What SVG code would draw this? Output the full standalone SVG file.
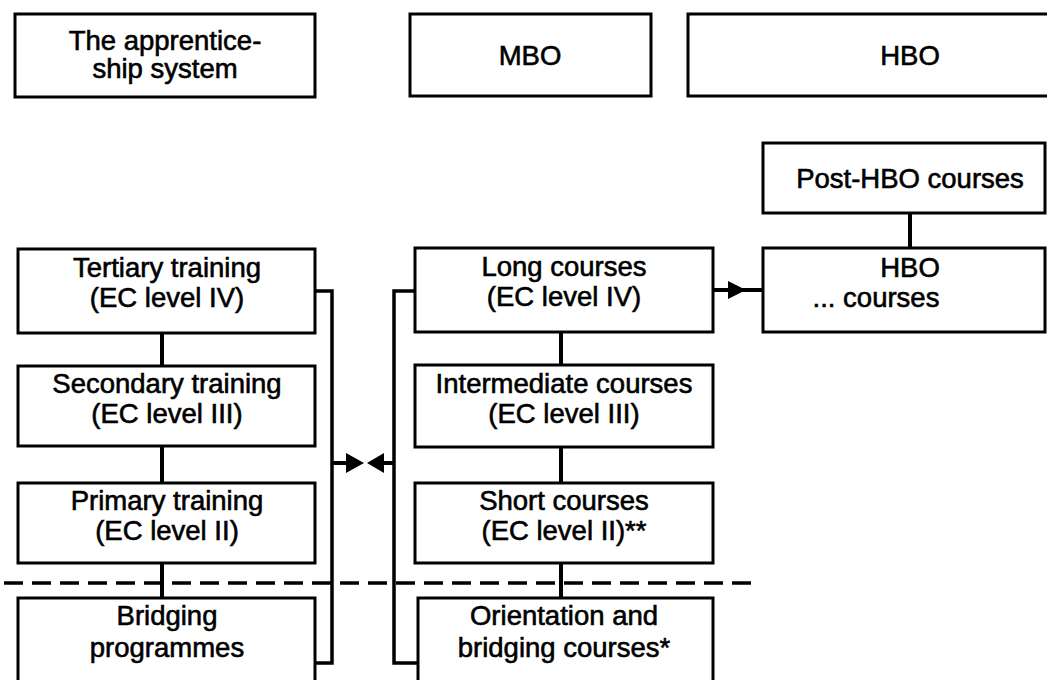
<svg xmlns="http://www.w3.org/2000/svg" width="1047" height="680" viewBox="0 0 1047 680">
<style>
.box{fill:#fff;stroke:#000;stroke-width:3}
.t{font-family:"Liberation Sans",Arial,sans-serif;font-size:27.5px;fill:#000;stroke:#000;stroke-width:0.6;text-anchor:middle}
.c{fill:none;stroke:#000;stroke-width:4}
.b{fill:none;stroke:#000;stroke-width:3.5}
.d{fill:none;stroke:#000;stroke-width:3.5;stroke-dasharray:19 9}
.ah{fill:#000}
</style>
<g id="connectors">
<line class="c" x1="162" y1="333" x2="162" y2="366"/>
<line class="c" x1="162" y1="446" x2="162" y2="483"/>
<line class="c" x1="162" y1="563" x2="162" y2="598"/>
<line class="c" x1="561" y1="332" x2="561" y2="365"/>
<line class="c" x1="561" y1="447" x2="561" y2="483"/>
<line class="c" x1="561" y1="563" x2="561" y2="598"/>
<line class="c" x1="910" y1="213" x2="910" y2="248"/>
<line class="c" x1="713" y1="290" x2="763" y2="290"/>
<polygon class="ah" points="728,281 746,290 728,299"/>
<polyline class="b" points="315,291 332,291 332,663 315,663"/>
<polyline class="b" points="415,291 394,291 394,663 418,663"/>
<line class="c" x1="332" y1="463" x2="350" y2="463"/>
<polygon class="ah" points="346,453 364,463 346,473"/>
<line class="c" x1="394" y1="463" x2="380" y2="463"/>
<polygon class="ah" points="384,453 367,463 384,473"/>
<line class="d" x1="4" y1="583" x2="752" y2="583"/>
</g>
<g id="apprenticeship">
<rect class="box" x="15" y="14" width="300" height="83"/>
<text class="t" x="165" y="50">The apprentice-</text>
<text class="t" x="165" y="78">ship system</text>
</g>
<g id="mbo">
<rect class="box" x="410" y="14" width="241" height="82"/>
<text class="t" x="530" y="65">MBO</text>
</g>
<g id="hbo">
<rect class="box" x="688" y="14" width="370" height="82"/>
<text class="t" x="910" y="65">HBO</text>
</g>
<g id="post-hbo">
<rect class="box" x="763" y="143" width="282" height="70"/>
<text class="t" x="910" y="188">Post-HBO courses</text>
</g>
<g id="hbo-courses">
<rect class="box" x="763" y="248" width="282" height="84"/>
<text class="t" x="910" y="277">HBO</text>
<text class="t" x="876" y="307">... courses</text>
</g>
<g id="tertiary">
<rect class="box" x="18" y="249" width="297" height="84"/>
<text class="t" x="167" y="277">Tertiary training</text>
<text class="t" x="167" y="307">(EC level IV)</text>
</g>
<g id="secondary">
<rect class="box" x="18" y="366" width="297" height="80"/>
<text class="t" x="167" y="393">Secondary training</text>
<text class="t" x="167" y="423">(EC level III)</text>
</g>
<g id="primary">
<rect class="box" x="18" y="483" width="297" height="80"/>
<text class="t" x="167" y="510">Primary training</text>
<text class="t" x="167" y="540">(EC level II)</text>
</g>
<g id="bridging">
<rect class="box" x="18" y="598" width="297" height="90"/>
<text class="t" x="167" y="625">Bridging</text>
<text class="t" x="167" y="657">programmes</text>
</g>
<g id="long">
<rect class="box" x="415" y="248" width="298" height="84"/>
<text class="t" x="564" y="276">Long courses</text>
<text class="t" x="564" y="306">(EC level IV)</text>
</g>
<g id="intermediate">
<rect class="box" x="415" y="365" width="298" height="82"/>
<text class="t" x="564" y="393">Intermediate courses</text>
<text class="t" x="564" y="423">(EC level III)</text>
</g>
<g id="short">
<rect class="box" x="415" y="483" width="298" height="80"/>
<text class="t" x="564" y="510">Short courses</text>
<text class="t" x="564" y="540">(EC level II)**</text>
</g>
<g id="orientation">
<rect class="box" x="418" y="598" width="295" height="90"/>
<text class="t" x="564" y="625">Orientation and</text>
<text class="t" x="564" y="657">bridging courses*</text>
</g>
</svg>
